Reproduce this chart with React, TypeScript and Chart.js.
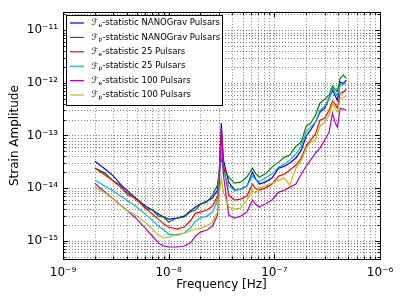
import React, { useEffect, useRef } from 'react';
import { Chart, registerables } from 'chart.js';

Chart.register(...registerables);

const FONT = '"DejaVu Sans", "Noto Sans", sans-serif';

// Frequency [Hz]
const frequencies = [
  2.0e-9, 2.5e-9, 3.0e-9, 3.5e-9, 4.0e-9, 5.0e-9, 6.0e-9, 7.0e-9, 8.0e-9, 9.0e-9,
  1.0e-8, 1.2e-8, 1.4e-8, 1.6e-8, 1.8e-8, 2.0e-8, 2.3e-8, 2.6e-8, 2.9e-8, 3.0e-8,
  3.15e-8, 3.3e-8, 3.7e-8, 4.2e-8, 4.8e-8, 5.5e-8, 6.2e-8, 6.6e-8, 7.2e-8, 8.2e-8,
  9.5e-8, 1.1e-7, 1.25e-7, 1.4e-7, 1.6e-7, 1.8e-7, 2.0e-7, 2.2e-7, 2.45e-7, 2.7e-7,
  3.0e-7, 3.3e-7, 3.55e-7, 3.75e-7, 3.95e-7, 4.2e-7, 4.5e-7, 4.8e-7,
];

const feNanograv = [
  3.26e-14, 2.30e-14, 1.69e-14, 1.19e-14, 9.17e-15, 6.19e-15, 4.56e-15, 3.83e-15, 3.21e-15, 2.82e-15,
  2.58e-15, 2.70e-15, 2.94e-15, 3.66e-15, 4.37e-15, 4.98e-15, 5.67e-15, 6.47e-15, 9.17e-15, 1.77e-14,
  1.71e-13, 3.40e-14, 1.30e-14, 9.17e-15, 9.6e-15, 1.09e-14, 2.01e-14, 1.55e-14, 1.19e-14, 1.30e-14,
  1.55e-14, 2.40e-14, 2.62e-14, 2.99e-14, 3.72e-14, 5.26e-14, 9.7e-14, 1.26e-13, 1.79e-13, 2.77e-13,
  3.30e-13, 5.11e-13, 7.24e-13, 5.82e-13, 4.68e-13, 1.03e-12, 9.8e-13, 1.12e-12,
];

const fpNanograv = [
  2.40e-14, 1.93e-14, 1.36e-14, 1.14e-14, 7.7e-15, 6.19e-15, 4.18e-15, 3.83e-15, 2.94e-15, 2.82e-15,
  2.26e-15, 2.70e-15, 2.82e-15, 3.51e-15, 3.83e-15, 4.98e-15, 5.43e-15, 7.38e-15, 1.14e-14, 2.01e-14,
  3.72e-14, 2.40e-14, 1.62e-14, 1.24e-14, 1.30e-14, 1.62e-14, 2.40e-14, 1.93e-14, 1.62e-14, 1.85e-14,
  2.51e-14, 3.12e-14, 3.88e-14, 4.24e-14, 6.27e-14, 7.46e-14, 1.50e-13, 1.71e-13, 2.43e-13, 4.10e-13,
  4.89e-13, 5.82e-13, 8.63e-13, 7.57e-13, 6.93e-13, 1.22e-12, 1.40e-12, 1.22e-12,
];

const fe25 = [
  2.40e-14, 1.77e-14, 1.36e-14, 1.045e-14, 8.4e-15, 5.93e-15, 4.18e-15, 3.21e-15, 2.58e-15, 2.07e-15,
  1.82e-15, 1.67e-15, 1.82e-15, 2.37e-15, 3.36e-15, 3.51e-15, 3.83e-15, 4.56e-15, 7.06e-15, 1.42e-14,
  1.38e-13, 2.74e-14, 7.38e-15, 5.93e-15, 6.19e-15, 7.06e-15, 1.19e-14, 1.00e-14, 9.17e-15, 1.00e-14,
  1.19e-14, 1.69e-14, 1.85e-14, 2.20e-14, 2.74e-14, 3.72e-14, 6.27e-14, 8.15e-14, 1.06e-13, 1.95e-13,
  2.13e-13, 3.02e-13, 4.48e-13, 3.93e-13, 3.30e-13, 6.35e-13, 6.64e-13, 7.57e-13,
];

const fp25 = [
  1.42e-14, 1.09e-14, 8.8e-15, 7.06e-15, 5.93e-15, 4.37e-15, 3.21e-15, 2.47e-15, 1.90e-15, 1.60e-15,
  1.34e-15, 1.28e-15, 1.40e-15, 1.74e-15, 2.37e-15, 2.70e-15, 2.94e-15, 3.51e-15, 5.93e-15, 1.42e-14,
  5.74e-14, 2.01e-14, 1.09e-14, 9.17e-15, 9.6e-15, 1.09e-14, 1.69e-14, 1.48e-14, 1.30e-14, 1.55e-14,
  1.85e-14, 2.51e-14, 2.86e-14, 3.40e-14, 4.42e-14, 6.27e-14, 1.16e-13, 1.44e-13, 1.79e-13, 3.02e-13,
  3.60e-13, 5.11e-13, 7.9e-13, 6.64e-13, 5.82e-13, 9.0e-13, 9.4e-13, 9.8e-13,
];

const fe100 = [
  1.24e-14, 8.4e-15, 6.19e-15, 4.76e-15, 3.83e-15, 2.58e-15, 1.74e-15, 1.23e-15, 9.06e-16, 7.94e-16,
  7.6e-16, 7.6e-16, 7.94e-16, 9.06e-16, 1.23e-15, 1.46e-15, 1.60e-15, 1.90e-15, 3.08e-15, 9.17e-15,
  1.26e-13, 1.77e-14, 3.08e-15, 2.70e-15, 2.94e-15, 3.51e-15, 5.93e-15, 4.98e-15, 4.37e-15, 4.98e-15,
  5.93e-15, 8.4e-15, 9.17e-15, 1.045e-14, 1.19e-14, 1.85e-14, 2.62e-14, 3.40e-14, 4.62e-14, 5.74e-14,
  8.15e-14, 1.16e-13, 2.65e-13, 1.79e-13, 1.44e-13, 3.30e-13, 3.16e-13, 3.02e-13,
];

const fp100 = [
  1.045e-14, 8.05e-15, 6.19e-15, 4.76e-15, 3.83e-15, 2.94e-15, 2.26e-15, 1.67e-15, 1.28e-15, 1.13e-15,
  1.18e-15, 1.34e-15, 1.40e-15, 1.53e-15, 1.67e-15, 1.74e-15, 1.90e-15, 2.26e-15, 3.51e-15, 7.38e-15,
  1.55e-14, 8.4e-15, 4.37e-15, 4.0e-15, 4.18e-15, 5.93e-15, 9.17e-15, 8.05e-15, 1.00e-14, 1.09e-14,
  1.24e-14, 1.42e-14, 1.55e-14, 1.14e-14, 2.40e-14, 3.40e-14, 5.74e-14, 7.46e-14, 8.15e-14, 1.50e-13,
  1.79e-13, 2.43e-13, 4.10e-13, 3.30e-13, 2.77e-13, 5.11e-13, 5.33e-13, 5.57e-13,
];

const seriesData = [feNanograv, fpNanograv, fe25, fp25, fe100, fp100];
const seriesStat = ['e', 'p', 'e', 'p', 'e', 'p'];
const seriesSubLabel = ['ₑ', 'ₚ', 'ₑ', 'ₚ', 'ₑ', 'ₚ'];
const seriesName = [
  'NANOGrav Pulsars', 'NANOGrav Pulsars', '25 Pulsars', '25 Pulsars', '100 Pulsars', '100 Pulsars',
];
const seriesColors = ['#0000ff', '#008000', '#ff0000', '#00bfbf', '#bf00bf', '#bfbf00'];

const xTickValues = [1e-9, 1e-8, 1e-7, 1e-6];
const xTickLabels = ['10⁻⁹', '10⁻⁸', '10⁻⁷', '10⁻⁶'];
const yTickValues = [1e-15, 1e-14, 1e-13, 1e-12, 1e-11];
const yTickLabels = ['10⁻¹⁵', '10⁻¹⁴', '10⁻¹³', '10⁻¹²', '10⁻¹¹'];

const X_MIN = 1e-9;
const X_MAX = 1e-6;
const Y_MIN = 4.5e-16;
const Y_MAX = 2.2e-11;

function logTickList(min: number, max: number) {
  const out: { v: number; major: boolean }[] = [];
  const e0 = Math.floor(Math.log10(min));
  const e1 = Math.ceil(Math.log10(max));
  for (let e = e0; e <= e1; e++) {
    for (let m = 1; m <= 9; m++) {
      const v = m * Math.pow(10, e);
      if (v >= min * 0.9999 && v <= max * 1.0001) out.push({ v, major: m === 1 });
    }
  }
  return out;
}

const framePlugin = {
  id: 'mplFrame',
  beforeDatasetsDraw(chart: any) {
    const { ctx, chartArea } = chart;
    const { left, right, top, bottom } = chartArea;
    const xs = chart.scales.x;
    const ys = chart.scales.y;
    ctx.save();
    ctx.beginPath();
    ctx.rect(left, top, right - left, bottom - top);
    ctx.clip();
    ctx.strokeStyle = 'rgba(0,0,0,0.5)';
    ctx.lineWidth = 1;
    ctx.setLineDash([1, 2]);
    for (const t of logTickList(xs.min, xs.max)) {
      const px = Math.round(xs.getPixelForValue(t.v)) + 0.5;
      ctx.beginPath();
      ctx.moveTo(px, top);
      ctx.lineTo(px, bottom);
      ctx.stroke();
    }
    for (const t of logTickList(ys.min, ys.max)) {
      const py = Math.round(ys.getPixelForValue(t.v)) + 0.5;
      ctx.beginPath();
      ctx.moveTo(left, py);
      ctx.lineTo(right, py);
      ctx.stroke();
    }
    ctx.restore();
  },
  afterDatasetsDraw(chart: any) {
    const { ctx, chartArea } = chart;
    const { left, right, top, bottom } = chartArea;
    const xs = chart.scales.x;
    const ys = chart.scales.y;
    ctx.save();
    ctx.strokeStyle = '#000';
    ctx.lineWidth = 1;
    ctx.setLineDash([]);
    for (const t of logTickList(xs.min, xs.max)) {
      const px = Math.round(xs.getPixelForValue(t.v)) + 0.5;
      const len = t.major ? 5 : 2.5;
      ctx.beginPath();
      ctx.moveTo(px, bottom);
      ctx.lineTo(px, bottom - len);
      ctx.moveTo(px, top);
      ctx.lineTo(px, top + len);
      ctx.stroke();
    }
    for (const t of logTickList(ys.min, ys.max)) {
      const py = Math.round(ys.getPixelForValue(t.v)) + 0.5;
      const len = t.major ? 5 : 2.5;
      ctx.beginPath();
      ctx.moveTo(left, py);
      ctx.lineTo(left + len, py);
      ctx.moveTo(right, py);
      ctx.lineTo(right - len, py);
      ctx.stroke();
    }
    ctx.strokeRect(Math.round(left) + 0.5, Math.round(top) + 0.5, Math.round(right - left), Math.round(bottom - top));
    ctx.restore();
  },
};

const legendPlugin = {
  id: 'boxLegend',
  afterDraw(chart: any) {
    const { ctx, chartArea } = chart;
    const bx = Math.round(chartArea.left) + 3.5;
    const by = Math.round(chartArea.top) + 3.5;
    const bw = 156;
    const bh = 90;
    ctx.save();
    ctx.fillStyle = '#ffffff';
    ctx.fillRect(bx, by, bw, bh);
    ctx.strokeStyle = '#000';
    ctx.lineWidth = 1;
    ctx.strokeRect(bx, by, bw, bh);
    ctx.textBaseline = 'middle';
    ctx.textAlign = 'left';
    ctx.fillStyle = '#000';
    for (let k = 0; k < seriesData.length; k++) {
      const cy = by + 7.5 + k * 14.4;
      ctx.strokeStyle = seriesColors[k];
      ctx.lineWidth = 1.2;
      ctx.beginPath();
      ctx.moveTo(bx + 3.5, cy);
      ctx.lineTo(bx + 17.5, cy);
      ctx.stroke();
      let tx = bx + 25;
      ctx.font = `9px ${FONT}`;
      ctx.fillText('ℱ', tx, cy);
      tx += ctx.measureText('ℱ').width;
      ctx.font = `6px ${FONT}`;
      ctx.fillText(seriesStat[k], tx, cy + 2.5);
      tx += ctx.measureText(seriesStat[k]).width;
      ctx.font = `8.5px ${FONT}`;
      ctx.fillText(`-statistic ${seriesName[k]}`, tx, cy);
    }
    ctx.restore();
  },
};

export default function App() {
  const canvasRef = useRef<HTMLCanvasElement | null>(null);

  useEffect(() => {
    const canvas = canvasRef.current;
    if (!canvas) return;
    const datasets = seriesData.map((vals, k) => ({
      label: `ℱ${seriesSubLabel[k]}-statistic ${seriesName[k]}`,
      data: frequencies.map((f, i) => ({ x: f, y: vals[i] })),
      borderColor: seriesColors[k],
      backgroundColor: seriesColors[k],
      borderWidth: 1.2,
      pointRadius: 0,
      tension: 0,
      fill: false,
      order: seriesData.length - 1 - k,
    }));

    const chart = new Chart(canvas, {
      type: 'line',
      data: { datasets },
      options: {
        responsive: false,
        animation: false,
        maintainAspectRatio: false,
        layout: { padding: { top: 12, right: 27, left: 0, bottom: 0 } },
        plugins: {
          legend: { display: false },
          tooltip: { enabled: false },
        },
        scales: {
          x: {
            type: 'logarithmic',
            min: X_MIN,
            max: X_MAX,
            grid: { display: false, drawTicks: false },
            border: { display: false },
            afterBuildTicks: (s: any) => {
              s.ticks = xTickValues.map((v) => ({ value: v }));
            },
            afterFit: (s: any) => {
              s.height = 48;
            },
            ticks: {
              autoSkip: false,
              maxRotation: 0,
              minRotation: 0,
              padding: 7,
              color: '#000',
              font: { family: FONT, size: 12 },
              callback: (_v: any, i: number) => xTickLabels[i],
            },
            title: {
              display: true,
              text: 'Frequency [Hz]',
              color: '#000',
              font: { family: FONT, size: 12 },
              padding: { top: 15, bottom: 15 },
            },
          },
          y: {
            type: 'logarithmic',
            min: Y_MIN,
            max: Y_MAX,
            grid: { display: false, drawTicks: false },
            border: { display: false },
            afterBuildTicks: (s: any) => {
              s.ticks = yTickValues.map((v) => ({ value: v }));
            },
            afterFit: (s: any) => {
              s.width = 63;
            },
            ticks: {
              autoSkip: false,
              padding: 5,
              color: '#000',
              font: { family: FONT, size: 12 },
              callback: (_v: any, i: number) => yTickLabels[i],
            },
            title: {
              display: true,
              text: 'Strain Amplitude',
              color: '#000',
              font: { family: FONT, size: 12 },
              padding: { top: 8, bottom: 8 },
            },
          },
        },
      } as any,
      plugins: [framePlugin, legendPlugin],
    });
    return () => chart.destroy();
  }, []);

  return (
    <div style={{ position: 'fixed', left: 0, top: 0, width: 407, height: 307, background: '#fff' }}>
      <canvas ref={canvasRef} width={407} height={307} style={{ display: 'block' }} />
    </div>
  );
}
